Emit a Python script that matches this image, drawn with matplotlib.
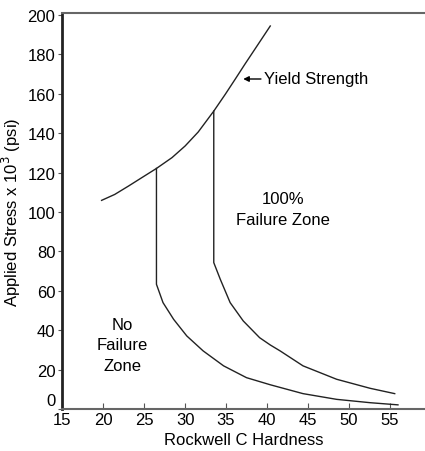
import matplotlib
matplotlib.use("Agg")
import matplotlib.pyplot as plt
from matplotlib.transforms import offset_copy

plt.rcParams['font.family'] = ['Liberation Sans', 'DejaVu Sans']

# Yield strength curve (Rockwell C hardness vs applied stress, ksi)
yield_hrc = [19.8, 21.4, 23.1, 24.7, 26.5, 28.4, 30.0, 31.6, 33.5, 34.9, 36.1, 37.3, 38.9, 40.4]
yield_ksi = [105.9, 108.9, 113.2, 117.4, 122.1, 127.6, 133.5, 140.6, 151.2, 159.7, 167.3, 175.0, 185.0, 194.4]

# Lower boundary (no-failure limit)
low_hrc = [26.5, 26.5, 27.3, 28.6, 30.2, 32.2, 34.7, 37.5, 40.4, 44.4, 48.5, 52.6, 56.0]
low_ksi = [122.1, 63.3, 54.0, 45.5, 37.1, 29.5, 21.9, 15.9, 12.3, 7.8, 4.9, 3.2, 2.1]

# Upper boundary (100% failure limit)
up_hrc = [33.5, 33.5, 34.3, 35.5, 37.1, 39.1, 40.4, 41.6, 44.4, 48.5, 52.6, 55.6]
up_ksi = [151.2, 74.3, 65.8, 54.0, 44.7, 36.2, 32.5, 29.5, 21.9, 15.1, 10.5, 7.8]

x_ticks = [15, 20, 25, 30, 35, 40, 45, 50, 55]
y_ticks = [0, 20, 40, 60, 80, 100, 120, 140, 160, 180, 200]

fig = plt.figure(figsize=(4.25, 4.52), dpi=100)
ax = fig.add_axes([62.3 / 425, 42 / 452, 1 - 62.3 / 425, (410 - 14) / 452])

line_kw = dict(color='#222222', lw=1.0, solid_joinstyle='round')
ax.plot(yield_hrc, yield_ksi, **line_kw)
ax.plot(low_hrc, low_ksi, **line_kw)
ax.plot(up_hrc, up_ksi, **line_kw)

ax.set_xlim(15, 59.3)
ax.set_ylim(0, 201)
ax.set_xticks(x_ticks)
ax.set_yticks(y_ticks)
# the zero label sits a little above the corner so it clears the "15"
ax.set_yticklabels(['' if v == 0 else str(v) for v in y_ticks])
ax.tick_params(axis='x', direction='in', length=4, width=0.8, colors='#555555',
               labelsize=12, labelcolor='black', pad=2)
ax.tick_params(axis='y', direction='out', length=3, width=0.8, colors='#555555',
               labelsize=12, labelcolor='black', pad=2)
zero_tr = offset_copy(ax.get_yaxis_transform(), fig=fig, x=-5, y=6, units='points')
ax.text(0, y_ticks[0], str(y_ticks[0]), transform=zero_tr, ha='right', va='center',
        fontsize=12)

ax.spines['right'].set_visible(False)
ax.spines['left'].set_linewidth(2.0)
ax.spines['left'].set_color('#222222')
for s in ('top', 'bottom'):
    ax.spines[s].set_linewidth(1.5)
    ax.spines[s].set_color('#666666')

ax.set_xlabel('Rockwell C Hardness', fontsize=12, labelpad=4)
ax.set_ylabel('Applied Stress x 10$^3$ (psi)', fontsize=12, labelpad=3)

ax.annotate('Yield Strength', xy=(37.1, 167.5), xytext=(39.6, 167.5),
            fontsize=12, va='center', ha='left',
            arrowprops=dict(arrowstyle='-|>', color='black', lw=1.0,
                            mutation_scale=8, shrinkA=0, shrinkB=0))

ax.text(42.0, 101.5, '100%\nFailure Zone', fontsize=12, ha='center', va='center',
        linespacing=1.45)
ax.text(22.3, 32.5, 'No\nFailure\nZone', fontsize=12, ha='center', va='center',
        linespacing=1.45)

fig.savefig('out.png', dpi=100)
